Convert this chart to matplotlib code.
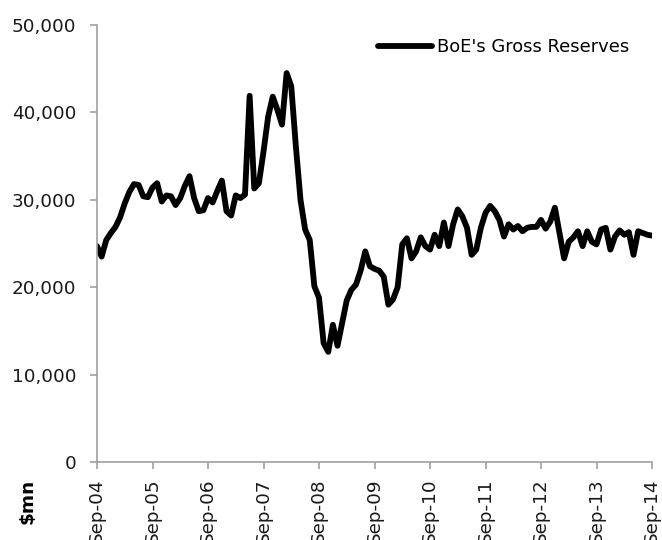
import numpy as np
import matplotlib.pyplot as plt
from matplotlib.ticker import FuncFormatter

# BoE gross reserves, monthly Sep-04 .. Sep-14 ($mn)
reserves = [
    24700, 23500, 25400, 26200, 26900, 28000, 29600, 30900, 31800, 31700,
    30400, 30300, 31400, 31900, 29800, 30500, 30400, 29400, 30200, 31600,
    32700, 30200, 28700, 28800, 30200, 29700, 31000, 32200, 28700, 28200,
    30500, 30200, 30600, 41900, 31300, 31900, 35500, 39500, 41800, 40300,
    38600, 44500, 43000, 36100, 30000, 26600, 25400, 20100, 18800, 13600,
    12600, 15700, 13300, 15900, 18500, 19700, 20300, 21900, 24100, 22400,
    22100, 21900, 21200, 18000, 18600, 20000, 24900, 25600, 23300, 24100,
    25700, 24700, 24300, 26000, 24700, 27400, 24700, 27200, 28900, 28100,
    26800, 23700, 24300, 26800, 28500, 29300, 28700, 27700, 25800, 27200,
    26600, 27000, 26400, 26800, 26900, 26900, 27700, 26700, 27500, 29100,
    26200, 23300, 25200, 25700, 26400, 24700, 26400, 25200, 24900, 26600,
    26800, 24300, 25800, 26500, 26000, 26300, 23700, 26400, 26200, 26000,
    25900,
]
tick_labels = ['Sep-04', 'Sep-05', 'Sep-06', 'Sep-07', 'Sep-08', 'Sep-09',
               'Sep-10', 'Sep-11', 'Sep-12', 'Sep-13', 'Sep-14']

plt.rcParams['font.family'] = ['DejaVu Sans']
fs = 13.2
grey = '#a0a0a0'

fig = plt.figure(figsize=(6.62, 5.4), dpi=100)
ax = fig.add_axes([97 / 662, 1 - 462 / 540, 555 / 662, 437 / 540])

months = np.arange(len(reserves))
ax.plot(months, reserves, color='black', lw=4.2, solid_joinstyle='round',
        solid_capstyle='round', label="BoE's Gross Reserves")

ax.set_xlim(0, len(reserves) - 1)
ax.set_ylim(0, 50000)
ax.set_xticks(np.arange(0, len(reserves), 12))
ax.set_xticklabels(tick_labels, rotation=90, fontsize=fs, color='#1a1a1a')
ax.set_yticks(np.arange(0, 50001, 10000))
ax.yaxis.set_major_formatter(FuncFormatter(lambda v, p: f'{int(v):,}'))

for side in ['top', 'right']:
    ax.spines[side].set_visible(False)
for side in ['left', 'bottom']:
    ax.spines[side].set_color(grey)
    ax.spines[side].set_linewidth(1.2)
ax.tick_params(axis='y', length=5, width=1.2, color=grey, pad=10,
               labelsize=fs, labelcolor='#1a1a1a')
ax.tick_params(axis='x', length=5, width=1.2, color=grey, pad=7,
               labelsize=fs)
for lab in ax.get_xticklabels():
    lab.set_verticalalignment('top')

ax.legend(loc='center left', bbox_to_anchor=(378 / 662, 1 - 47 / 540),
          bbox_transform=fig.transFigure, frameon=False, fontsize=12.9,
          borderaxespad=0, borderpad=0, handlelength=3.0, handletextpad=0.3)

fig.text(28 / 662, 1 - 501 / 540, '$mn', rotation=90, fontsize=fs,
         fontweight='bold', ha='center', va='center')

fig.savefig('out.png', dpi=100)
